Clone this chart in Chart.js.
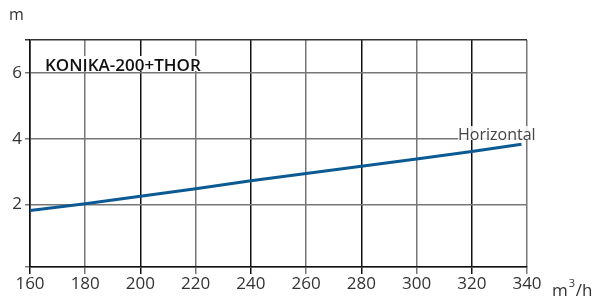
<!DOCTYPE html>
<html>
<head>
<meta charset="utf-8">
<script src="https://cdn.jsdelivr.net/npm/chart.js@4/dist/chart.umd.min.js"></script>
<style>
  html, body { margin: 0; padding: 0; background: #fff; }
  #wrap { width: 597px; height: 304px; position: relative; }
</style>
</head>
<body>
<div id="wrap"><canvas id="curve"></canvas></div>
<script>
/* pump curve: head (m) vs flow (m3/h) */
const flowValues = [160, 180, 200, 220, 240, 260, 280, 300, 320, 338];
const headValues = [1.82, 2.02, 2.25, 2.48, 2.72, 2.94, 3.16, 3.38, 3.61, 3.83];
const yTickValues = [2, 4, 6];
const seriesName = 'Horizontal';
const chartTitle = 'KONIKA-200+THOR';

const FONT = "'Open Sans', 'Noto Sans', sans-serif";

const extraText = {
    id: 'extraText',
    afterDraw(chart) {
        const ctx = chart.ctx;
        ctx.save();
        ctx.textBaseline = 'alphabetic';
        // title inside plot, white behind
        ctx.font = "600 17px " + FONT;
        const tw = ctx.measureText(chartTitle).width;
        ctx.fillStyle = '#fff';
        ctx.fillRect(44, 56, tw + 2, 15);
        ctx.fillStyle = '#111';
        ctx.fillText(chartTitle, 45, 71);
        // series label with white backing
        ctx.font = "16px " + FONT;
        const w = ctx.measureText(seriesName).width;
        ctx.fillStyle = 'rgba(255,255,255,0.85)';
        ctx.fillRect(458, 126, w, 14);
        ctx.fillStyle = '#444';
        ctx.fillText(seriesName, 458, 140);
        // axis units
        ctx.fillStyle = '#333';
        ctx.font = "16px " + FONT;
        ctx.fillText('m', 9, 20);
        ctx.font = "17px " + FONT;
        ctx.fillText('m', 552, 296);
        const mw = ctx.measureText('m').width;
        ctx.font = "11px " + FONT;
        ctx.fillText('3', 552 + mw + 1, 287);
        ctx.font = "17px " + FONT;
        ctx.fillText('/h', 552 + mw + 8, 296);
        ctx.restore();
    }
};

new Chart(document.getElementById('curve'), {
    type: 'line',
    data: {
        datasets: [{
            label: seriesName,
            data: flowValues.map((f, i) => ({ x: f, y: headValues[i] })),
            borderColor: '#0b5a94',
            borderWidth: 3,
            pointRadius: 0,
            tension: 0,
            fill: false
        }]
    },
    options: {
        responsive: true,
        maintainAspectRatio: false,
        animation: false,
        layout: { padding: { top: 40, right: 70, left: 0, bottom: 0 } },
        plugins: { legend: { display: false }, tooltip: { enabled: false } },
        scales: {
            x: {
                type: 'linear',
                min: 160,
                max: 340,
                ticks: { stepSize: 20, color: '#333', font: { family: FONT, size: 17 }, padding: 0, maxRotation: 0 },
                grid: {
                    color: c => (c.index % 2 === 1 ? '#777' : '#111'),
                    lineWidth: 1.5,
                    tickLength: 7
                },
                border: { color: '#111', width: 1.5 },
                afterFit: s => { s.height = 37; }
            },
            y: {
                min: 0.1,
                max: 7,
                afterBuildTicks: s => { s.ticks = [0.1].concat(yTickValues, [7]).map(v => ({ value: v })); },
                ticks: {
                    color: '#333',
                    font: { family: FONT, size: 17 },
                    padding: 3,
                    callback: v => (yTickValues.includes(v) ? String(v) : '')
                },
                grid: {
                    color: c => (c.tick && c.tick.value === 7 ? '#333' : '#777'),
                    lineWidth: 1.5,
                    tickLength: 5
                },
                border: { color: '#111', width: 1.5 },
                afterFit: s => { s.width = 30; }
            }
        }
    },
    plugins: [extraText]
});
</script>
</body>
</html>
